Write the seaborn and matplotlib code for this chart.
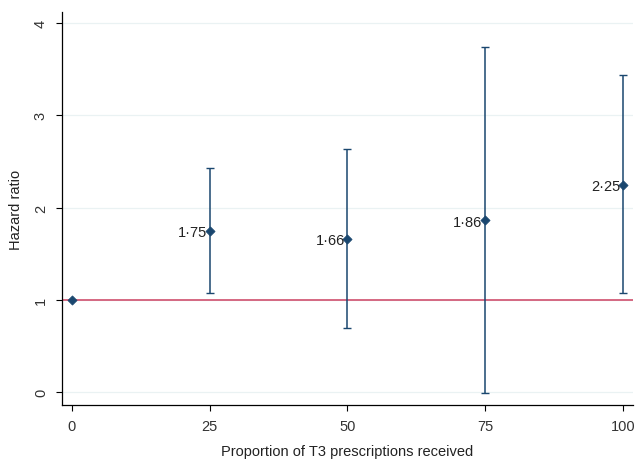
import pandas as pd
import seaborn as sns
import matplotlib.pyplot as plt

# hazard ratios by proportion of T3 prescriptions
proportion = [0, 25, 50, 75, 100]
hazard = [1.0, 1.75, 1.66, 1.86, 2.25]
ci_low = [1.0, 1.07, 0.70, -0.01, 1.07]
ci_high = [1.0, 2.43, 2.63, 3.74, 3.44]
labels = ["", "1·75", "1·66", "1·86", "2·25"]

df = pd.DataFrame({"proportion": proportion, "hazard": hazard,
                   "low": ci_low, "high": ci_high, "label": labels})

sns.set_theme(style="white")
plt.rcParams['font.family'] = ['Liberation Sans', 'DejaVu Sans']

navy = "#1a476f"

fig = plt.figure(figsize=(6.37, 4.64), dpi=100)
ax = fig.add_axes([0.097, 0.125, 0.897, 0.847])

for y in [0, 1, 2, 3, 4]:
    ax.axhline(y, color="#eaf2f3", lw=0.9, zorder=0)
ax.axhline(1, color="#d0506e", lw=1.2, zorder=1)

ci = df[df["proportion"] > 0]
ax.errorbar(ci["proportion"], ci["hazard"],
            yerr=[ci["hazard"] - ci["low"], ci["high"] - ci["hazard"]],
            fmt="none", ecolor=navy, elinewidth=1.1, capsize=2.6, capthick=1.0, zorder=2)
sns.scatterplot(data=df, x="proportion", y="hazard", marker="D", color=navy,
                s=22, edgecolor=navy, linewidth=0.5, ax=ax, zorder=3)

for _, r in ci.iterrows():
    ax.annotate(r["label"], (r["proportion"], r["hazard"]), xytext=(-2, -1),
                textcoords="offset points", ha="right", va="center",
                fontsize=10.5, color="#222222")

ax.set_xlim(-1.8, 101.8)
ax.set_ylim(-0.14, 4.12)
ax.set_xticks([0, 25, 50, 75, 100])
ax.set_yticks([0, 1, 2, 3, 4])
ax.set_yticklabels(["0", "1", "2", "3", "4"], rotation=90, va="center")
ax.tick_params(axis="both", labelsize=10.5, length=4, width=0.8, color="#000000",
               left=True, bottom=True, labelcolor="#333333", pad=6)
for s in ["top", "right"]:
    ax.spines[s].set_visible(False)
for s in ["left", "bottom"]:
    ax.spines[s].set_color("#000000")
    ax.spines[s].set_linewidth(0.9)

ax.set_xlabel("Proportion of T3 prescriptions received", fontsize=10.5,
              color="#222222", labelpad=8)
ax.set_ylabel("Hazard ratio", fontsize=10.5, color="#222222", labelpad=8)

fig.savefig("out.png", dpi=100)
